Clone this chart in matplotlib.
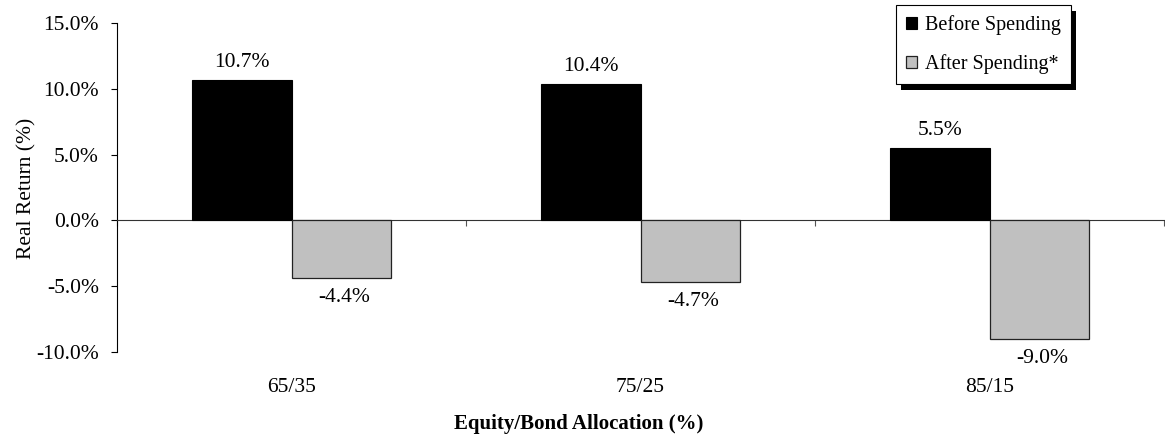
import matplotlib
matplotlib.use("Agg")
import matplotlib.pyplot as plt
from matplotlib.patches import Rectangle
from matplotlib.ticker import FuncFormatter
import numpy as np

categories = ["65/35", "75/25", "85/15"]
before_spending = [10.7, 10.4, 5.5]
after_spending = [-4.4, -4.7, -9.0]
series_names = ["Before Spending", "After Spending*"]
y_ticks = [-10, -5, 0, 5, 10, 15]

plt.rcParams["font.family"] = ["Liberation Serif", "DejaVu Serif"]
FS = 15.5

fig = plt.figure(figsize=(11.65, 4.4), dpi=100)
ax = fig.add_axes([117 / 1165, 88 / 440, 1047 / 1165, 329 / 440])

x = np.arange(len(categories))
width = 1 / 3.5
b1 = ax.bar(x - width / 2, before_spending, width, color="black",
            edgecolor="black", linewidth=0.8, label=series_names[0], zorder=3)
b2 = ax.bar(x + width / 2, after_spending, width, color="#c0c0c0",
            edgecolor="#222222", linewidth=0.9, label=series_names[1], zorder=3)

for rect, v in zip(b1, before_spending):
    ax.annotate(f"{v:.1f}%", (rect.get_x() + rect.get_width() / 2, v),
                xytext=(0, 12.5), textcoords="offset points",
                ha="center", va="center", fontsize=FS)
for rect, v in zip(b2, after_spending):
    ax.annotate(f"{v:.1f}%", (rect.get_x() + rect.get_width() / 2, v),
                xytext=(2, -14), textcoords="offset points",
                ha="center", va="center", fontsize=FS)

ax.set_xlim(-0.5, len(categories) - 0.5)
ax.set_ylim(min(y_ticks), max(y_ticks))
ax.set_yticks(y_ticks)
ax.yaxis.set_major_formatter(FuncFormatter(lambda v, p: f"{v:.1f}%"))
ax.tick_params(axis="y", direction="out", length=4, width=0.8,
               labelsize=FS, pad=9)

for s in ["top", "right"]:
    ax.spines[s].set_visible(False)
ax.spines["left"].set_linewidth(0.8)
# category axis crosses at zero, ticks at the category boundaries
ax.spines["bottom"].set_position(("data", 0))
ax.spines["bottom"].set_linewidth(0.8)
ax.spines["bottom"].set_color("#333333")
ax.set_xticks(np.arange(-0.5, len(categories)))
ax.tick_params(axis="x", direction="out", length=4, width=0.8,
               colors="#555555", labelbottom=False)

# category labels sit below the plot area
sec = ax.secondary_xaxis(0)
sec.set_xticks(x)
sec.set_xticklabels(categories)
sec.tick_params(length=0, labelsize=FS, pad=19)
sec.spines["bottom"].set_visible(False)

fig.text(27 / 1165, 1 - 188 / 440, "Real Return (%)", rotation=90,
         ha="center", va="center", fontsize=FS)
fig.text(579 / 1165, 1 - 424 / 440, "Equity/Bond Allocation (%)",
         ha="center", va="center", fontsize=15, fontweight="bold")

leg = fig.legend(handles=[b1, b2], labels=series_names,
                 loc="upper left", bbox_to_anchor=(896 / 1165, 1 - 5 / 440),
                 bbox_transform=fig.transFigure, fontsize=14.5,
                 frameon=True, fancybox=False, edgecolor="black",
                 framealpha=1, borderpad=0.5, labelspacing=0.95,
                 handlelength=0.55, handleheight=0.55, handletextpad=0.4,
                 borderaxespad=0)
leg.get_frame().set_linewidth(0.8)
leg.set_zorder(5)

fig.canvas.draw()
bb = leg.get_window_extent()
shadow = Rectangle((bb.x0 + 5, bb.y0 - 6), bb.width, bb.height,
                   transform=None, facecolor="black", edgecolor="none",
                   zorder=4.9)
fig.patches.append(shadow)
shadow.set_figure(fig)

fig.savefig("out.png", dpi=100)
